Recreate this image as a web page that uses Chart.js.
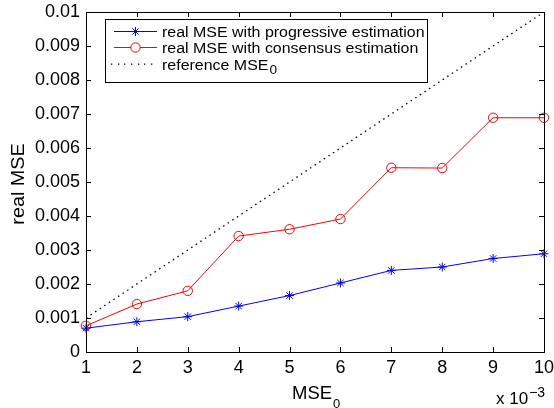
<!DOCTYPE html>
<html><head><meta charset="utf-8">
<script src="https://cdn.jsdelivr.net/npm/chart.js@4"></script>
<style>html,body{margin:0;padding:0;background:#fff}#w{width:554px;height:408px}</style>
</head><body><div id="w"><canvas id="c" width="554" height="408"></canvas></div>
<script>
const categories = [1,2,3,4,5,6,7,8,9,10];
const progressive = [0.00070,0.00089,0.00104,0.00135,0.00166,0.00203,0.00240,0.00250,0.00275,0.00289];
const consensus = [0.00077,0.00141,0.00180,0.00341,0.00361,0.00391,0.00542,0.00541,0.00689,0.00689];
const reference = [0.001,0.010];
const referenceX = [1,10];
const yTickLabels = ['0','0.001','0.002','0.003','0.004','0.005','0.006','0.007','0.008','0.009','0.01'];
const xTickLabels = ['1','2','3','4','5','6','7','8','9','10'];

const FONT = '"Liberation Sans", Arial, sans-serif';

function stretchText(ctx, text, x, y, sx){
  ctx.save(); ctx.translate(x,y); ctx.scale(sx,1); ctx.fillText(text,0,0); ctx.restore();
}

const frame = {
  id:'frame',
  afterDraw(chart){
    const {ctx, chartArea:a, scales:{x,y}} = chart;
    ctx.save();
    ctx.strokeStyle='#000'; ctx.lineWidth=1;
    ctx.strokeRect(Math.round(a.left)+0.5, Math.round(a.top)+0.5, Math.round(a.right-a.left), Math.round(a.bottom-a.top));
    const L=5;
    ctx.beginPath();
    categories.forEach(v=>{
      const px=Math.round(x.getPixelForValue(v))+0.5;
      ctx.moveTo(px,a.bottom); ctx.lineTo(px,a.bottom-L);
      ctx.moveTo(px,a.top); ctx.lineTo(px,a.top+L);
    });
    yTickLabels.forEach((t,i)=>{
      const py=Math.round(y.getPixelForValue(i*0.001))+0.5;
      ctx.moveTo(a.left,py); ctx.lineTo(a.left+L,py);
      ctx.moveTo(a.right,py); ctx.lineTo(a.right-L,py);
    });
    ctx.stroke();
    // axis titles
    ctx.fillStyle='#000';
    ctx.font='18.5px '+FONT;
    ctx.textBaseline='alphabetic';
    ctx.textAlign='left';
    ctx.fillText('MSE',292,398.5);
    const w=ctx.measureText('MSE').width;
    ctx.font='13px '+FONT;
    ctx.fillText('0',292+w+1,407.5);
    // exponent
    ctx.font='17px '+FONT;
    ctx.fillText('x 10',496,404);
    const w2=ctx.measureText('x 10').width;
    ctx.font='14px '+FONT;
    ctx.fillText('\u22123',496+w2+1,396.5);
    // y title
    ctx.save();
    ctx.translate(23.5,184);
    ctx.rotate(-Math.PI/2);
    ctx.scale(1.1,1);
    ctx.font='18px '+FONT;
    ctx.textAlign='center';
    ctx.fillText('real MSE',0,0);
    ctx.restore();
    // legend
    const bx=105.5, by=19.5, bw=322, bh=63;
    ctx.fillStyle='#fff';
    ctx.fillRect(bx,by,bw,bh);
    ctx.strokeStyle='#000';
    ctx.strokeRect(bx,by,bw,bh);
    const rows=[31.5,47.5,63.5];
    ctx.textBaseline='alphabetic';
    ctx.textAlign='left';
    ctx.strokeStyle='#0000ff'; ctx.lineWidth=1;
    ctx.beginPath(); ctx.moveTo(114,rows[0]); ctx.lineTo(157,rows[0]); ctx.stroke();
    const s=4.5, cx=135.5;
    ctx.beginPath();
    ctx.moveTo(cx-s,rows[0]); ctx.lineTo(cx+s,rows[0]);
    ctx.moveTo(cx,rows[0]-s); ctx.lineTo(cx,rows[0]+s);
    ctx.moveTo(cx-s*0.7,rows[0]-s*0.7); ctx.lineTo(cx+s*0.7,rows[0]+s*0.7);
    ctx.moveTo(cx-s*0.7,rows[0]+s*0.7); ctx.lineTo(cx+s*0.7,rows[0]-s*0.7);
    ctx.stroke();
    ctx.strokeStyle='#ff0000';
    ctx.beginPath(); ctx.moveTo(114,rows[1]); ctx.lineTo(157,rows[1]); ctx.stroke();
    ctx.fillStyle='#fff';
    ctx.beginPath(); ctx.arc(cx,rows[1],4.7,0,Math.PI*2); ctx.fill(); ctx.stroke();
    ctx.fillStyle='#000';
    for(let xx=111; xx<=155; xx+=6.7){ ctx.fillRect(Math.round(xx),rows[2],1.3,1.3); }
    ctx.font='14px '+FONT;
    const SX=1.14;
    stretchText(ctx,'real MSE with progressive estimation',162,rows[0]+5.5,SX);
    stretchText(ctx,'real MSE with consensus estimation',162,rows[1]+5.5,SX);
    stretchText(ctx,'reference MSE',162,rows[2]+6,SX);
    const w3=ctx.measureText('reference MSE').width*SX;
    ctx.font='12px '+FONT;
    stretchText(ctx,'0',162+w3+1,rows[2]+10.5,SX);
    ctx.restore();
  }
};

new Chart(document.getElementById('c'),{
  type:'line',
  data:{datasets:[
    {label:'real MSE with progressive estimation',data:categories.map((c,i)=>({x:c,y:progressive[i]})),
     borderColor:'#0000ff',backgroundColor:'#0000ff',borderWidth:1,pointStyle:'star',pointRadius:4.5,pointBorderWidth:1,pointBorderColor:'#0000ff',order:1,clip:false},
    {label:'real MSE with consensus estimation',data:categories.map((c,i)=>({x:c,y:consensus[i]})),
     borderColor:'#ff0000',backgroundColor:'rgba(0,0,0,0)',borderWidth:1,pointStyle:'circle',pointRadius:4.7,pointBorderWidth:1,pointBorderColor:'#ff0000',order:2,clip:false},
    {label:'reference MSE0',data:referenceX.map((c,i)=>({x:c,y:reference[i]})),
     borderColor:'#000',borderWidth:1.3,borderDash:[1.5,4],pointRadius:0,order:3}
  ]},
  options:{
    responsive:false,animation:false,
    layout:{padding:{top:12,right:10,left:0,bottom:0}},
    plugins:{legend:{display:false},tooltip:{enabled:false}},
    scales:{
      x:{type:'linear',min:1,max:10,
        afterFit(s){s.height=56;s.paddingLeft=0;s.paddingRight=0;},
        grid:{display:false,drawTicks:false},border:{display:false},
        afterBuildTicks(s){s.ticks=categories.map(v=>({value:v}));},
        ticks:{color:'#000',font:{family:FONT,size:18},padding:5,maxRotation:0,autoSkip:false,
          callback:(v)=>xTickLabels[categories.indexOf(v)]}},
      y:{type:'linear',min:0,max:0.01,
        afterFit(s){s.width=86;s.paddingTop=0;s.paddingBottom=0;},
        grid:{display:false,drawTicks:false},border:{display:false},
        afterBuildTicks(s){s.ticks=yTickLabels.map((t,i)=>({value:i*0.001}));},
        ticks:{color:'#000',font:{family:FONT,size:18},padding:6,autoSkip:false,
          callback:(v)=>yTickLabels[Math.round(v/0.001)]}}
    }
  },
  plugins:[frame]
});
</script></body></html>
